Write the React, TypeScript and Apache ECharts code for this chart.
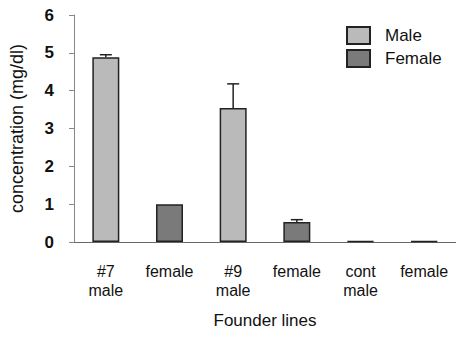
import React, { useEffect, useRef } from "react";
import * as echarts from "echarts";

const categories = ["#7\nmale", "female", "#9\nmale", "female", "cont\nmale", "female"];
const maleValues = [4.88, null, 3.54, null, 0.02, null];
const femaleValues = [null, 1.0, null, 0.53, null, 0.02];
const errorTops = [4.95, null, 4.18, 0.59, null, null];
const yTicks = [0, 1, 2, 3, 4, 5, 6];

export default function App() {
  const ref = useRef<HTMLDivElement>(null);
  useEffect(() => {
    const chart = echarts.init(ref.current!, null, { renderer: "svg" });
    const values = categories.map((_, i) => (maleValues[i] ?? femaleValues[i]) as number);
    const errData: any[] = [];
    errorTops.forEach((t, i) => {
      if (t != null) errData.push([i, values[i], t]);
    });
    chart.setOption({
      animation: false,
      backgroundColor: "#ffffff",
      textStyle: { fontFamily: "Liberation Sans, Arial, sans-serif" },
      grid: { left: 71, right: -5, top: 15, bottom: 99 },
      legend: {
        orient: "vertical",
        left: 346,
        top: 26,
        padding: 0,
        itemWidth: 23,
        itemHeight: 17,
        itemGap: 4,
        icon: "rect",
        textStyle: { fontSize: 17, color: "#111", padding: [0, 0, 0, 10] },
        data: ["Male", "Female"],
      },
      xAxis: {
        type: "category",
        data: categories,
        axisLine: { lineStyle: { color: "#666", width: 1 } },
        axisTick: { show: false },
        axisLabel: {
          interval: 0,
          fontSize: 16,
          lineHeight: 19,
          color: "#111",
          margin: 20,
        },
        name: "Founder lines",
        nameLocation: "middle",
        nameGap: 70,
        nameTextStyle: { fontSize: 17, color: "#111" },
      },
      yAxis: {
        type: "value",
        min: 0,
        max: 6,
        interval: 1,
        splitLine: { show: false },
        axisLine: { show: true, lineStyle: { color: "#888" } },
        axisTick: { show: true, length: 5, lineStyle: { color: "#888" } },
        axisLabel: {
          fontSize: 17,
          color: "#111",
          margin: 20,
          fontWeight: "bold",
          formatter: (v: number) => (yTicks.includes(v) ? String(v) : ""),
        },
        name: "concentration (mg/dl)",
        nameLocation: "middle",
        nameGap: 48,
        nameTextStyle: { fontSize: 18, color: "#111" },
      },
      series: [
        {
          name: "Male",
          type: "bar",
          data: maleValues,
          barWidth: 27,
          barGap: "-100%",
          itemStyle: { color: "#bababa", borderColor: "#222", borderWidth: 1.5 },
        },
        {
          name: "Female",
          type: "bar",
          data: femaleValues,
          barWidth: 27,
          itemStyle: { color: "#7a7a7a", borderColor: "#222", borderWidth: 1.5 },
        },
        {
          type: "custom",
          data: errData,
          z: 5,
          renderItem: (params: any, api: any) => {
            const x = api.value(0);
            const lo = api.coord([x, api.value(1)]);
            const hi = api.coord([x, api.value(2)]);
            const cap = 6;
            const style = { stroke: "#222", lineWidth: 1.5 };
            return {
              type: "group",
              children: [
                { type: "line", shape: { x1: lo[0], y1: lo[1], x2: hi[0], y2: hi[1] }, style },
                { type: "line", shape: { x1: hi[0] - cap, y1: hi[1], x2: hi[0] + cap, y2: hi[1] }, style },
              ],
            };
          },
        },
      ],
    });
    return () => chart.dispose();
  }, []);
  return <div ref={ref} style={{ width: 456, height: 341, position: "absolute", left: 0, top: 0 }} />;
}
